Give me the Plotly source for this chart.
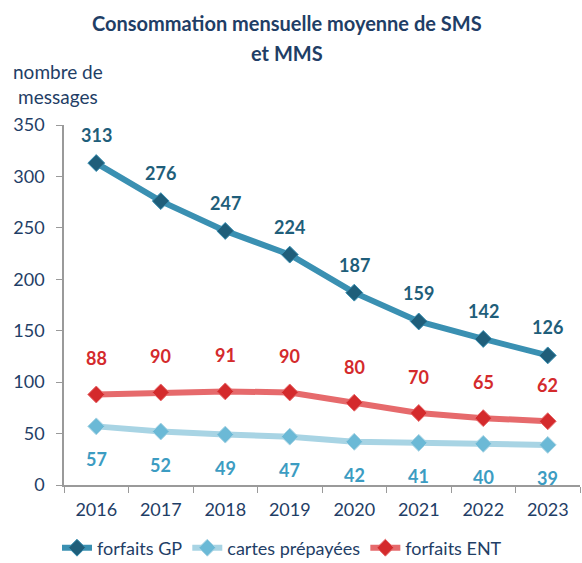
import plotly.graph_objects as go

years = ["2016", "2017", "2018", "2019", "2020", "2021", "2022", "2023"]
forfaits_gp = [313, 276, 247, 224, 187, 159, 142, 126]
cartes_prepayees = [57, 52, 49, 47, 42, 41, 40, 39]
forfaits_ent = [88, 90, 91, 90, 80, 70, 65, 62]

FONT = "Lato, 'Open Sans', sans-serif"
NAVY = "#1F3E66"

W, H = 582, 563
ML, MR, MT, MB = 64, 2, 125, 78
PW, PH = W - ML - MR, H - MT - MB


def page_to_paper(px, py):
    """Convert page pixel position to paper coordinates of the plot area."""
    return (px - ML) / PW, (H - MB - py) / PH


series = [
    ("forfaits GP", forfaits_gp, "#3A90B2", "#1F5E7A", "#1F5E7A", 28),
    ("cartes prépayées", cartes_prepayees, "#A8D4E4", "#6BB9D6", "#3C9CC2", -33),
    ("forfaits ENT", forfaits_ent, "#E66A6C", "#D42A2C", "#D42A2C", 36),
]

fig = go.Figure()
annotations = []
for name, vals, lc, mc, tc, shift in series:
    fig.add_trace(go.Scatter(
        x=years, y=vals, name=name, mode="lines+markers",
        line=dict(color=lc, width=6),
        marker=dict(symbol="diamond", size=13, color=mc,
                    line=dict(color=lc, width=1)),
    ))
    # value labels: category index on the x axis
    for i, v in enumerate(vals):
        annotations.append(dict(
            x=i, y=v, xref="x", yref="y", text=str(v), showarrow=False,
            yshift=shift,
            font=dict(family=FONT, size=18, color=tc, weight="bold"),
        ))

# two-line title
for line, ypx in (("Consommation mensuelle moyenne de SMS", 23),
                  ("et MMS", 53)):
    ax, ay = page_to_paper(287, ypx)
    annotations.append(dict(
        text=line, x=ax, y=ay, xref="paper", yref="paper",
        xanchor="center", yanchor="middle", showarrow=False,
        font=dict(family=FONT, size=20, color=NAVY, weight="bold"),
    ))

# y axis caption
ax, ay = page_to_paper(58, 84)
annotations.append(dict(
    text="nombre de<br>messages", x=ax, y=ay, xref="paper", yref="paper",
    xanchor="center", yanchor="middle", showarrow=False, align="center",
    font=dict(family=FONT, size=19, color=NAVY),
))

lx, ly = page_to_paper(282, 548)

fig.update_layout(
    width=W, height=H,
    margin=dict(l=ML, r=MR, t=MT, b=MB, autoexpand=False),
    paper_bgcolor="white", plot_bgcolor="white",
    annotations=annotations,
    showlegend=True,
    legend=dict(
        orientation="h", x=lx, xanchor="center", y=ly, yanchor="middle",
        font=dict(family=FONT, size=18, color=NAVY),
    ),
    xaxis=dict(
        type="category", range=[-0.5, 7.5], showline=True,
        linecolor="#9A9A9A", linewidth=1.5,
        ticks="outside", tickcolor="#9A9A9A", ticklen=6, tickson="boundaries",
        ticklabelstandoff=8,
        showgrid=False, tickfont=dict(family=FONT, size=18, color=NAVY),
    ),
    yaxis=dict(
        range=[0, 350], dtick=50, showline=True, linecolor="#9A9A9A",
        linewidth=1.5, ticks="outside", tickcolor="#9A9A9A", ticklen=6,
        ticklabelstandoff=8,
        showgrid=False, zeroline=False,
        tickfont=dict(family=FONT, size=18, color=NAVY),
    ),
)

fig.write_html("out.html")
